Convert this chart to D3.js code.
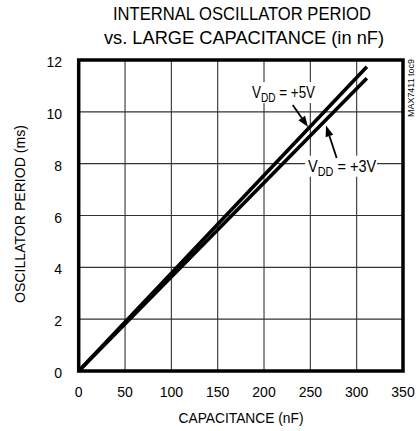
<!DOCTYPE html>
<html>
<head>
<meta charset="utf-8">
<script src="https://cdn.jsdelivr.net/npm/d3@7"></script>
<style>
  body { margin: 0; background: #fff; }
  text { font-family: "Liberation Sans Narrow", "Liberation Sans", Arial, sans-serif; fill: #000; }
</style>
</head>
<body>
<div id="chart"></div>
<script>
// capacitance in nF, period in ms
const capacitance = [0, 311];
const period5V = [0, 11.74];
const period3V = [0, 11.3];
const xTicks = [0, 50, 100, 150, 200, 250, 300, 350];
const yTicks = [0, 2, 4, 6, 8, 10, 12];

var drawChart = function () {
  const width = 418;
  const height = 431;
  const margin = { top: 60, right: 15, bottom: 60, left: 78.7 };

  const svg = d3.select('#chart')
    .append('svg')
    .attr('width', width)
    .attr('height', height);

  const x = d3.scaleLinear().domain([0, 350]).range([margin.left, 403]);
  const y = d3.scaleLinear().domain([0, 12]).range([371, margin.top]);

  // title
  svg.append('text')
    .attr('x', 242).attr('y', 19.5)
    .attr('text-anchor', 'middle')
    .attr('font-size', 17.5)
    .attr('textLength', 258).attr('lengthAdjust', 'spacingAndGlyphs')
    .text('INTERNAL OSCILLATOR PERIOD');
  svg.append('text')
    .attr('x', 244).attr('y', 44)
    .attr('text-anchor', 'middle')
    .attr('font-size', 17.5)
    .attr('textLength', 280).attr('lengthAdjust', 'spacingAndGlyphs')
    .text('vs. LARGE CAPACITANCE (in nF)');

  // grid
  const grid = svg.append('g')
    .attr('stroke', '#333')
    .attr('stroke-width', 1.1);
  grid.selectAll('line.v')
    .data(xTicks.slice(1, -1))
    .enter().append('line')
    .attr('x1', d => x(d)).attr('x2', d => x(d))
    .attr('y1', y(12)).attr('y2', y(0));
  grid.selectAll('line.h')
    .data(yTicks.slice(1, -1))
    .enter().append('line')
    .attr('x1', x(0)).attr('x2', x(350))
    .attr('y1', d => y(d)).attr('y2', d => y(d));

  // series
  const line = d3.line()
    .x(d => x(d[0]))
    .y(d => y(d[1]));
  const series = [
    d3.zip(capacitance, period5V),
    d3.zip(capacitance, period3V)
  ];
  svg.append('g')
    .selectAll('path')
    .data(series)
    .enter().append('path')
    .attr('d', line)
    .attr('fill', 'none')
    .attr('stroke', '#000')
    .attr('stroke-width', 3.6);

  // frame
  svg.append('rect')
    .attr('x', x(0)).attr('y', y(12))
    .attr('width', x(350) - x(0))
    .attr('height', y(0) - y(12))
    .attr('fill', 'none')
    .attr('stroke', '#000')
    .attr('stroke-width', 3.5);

  // tick labels
  svg.append('g')
    .selectAll('text')
    .data(xTicks)
    .enter().append('text')
    .attr('x', d => x(d))
    .attr('y', 397)
    .attr('text-anchor', 'middle')
    .attr('font-size', 14)
    .text(d => d);

  svg.append('g')
    .selectAll('text')
    .data(yTicks)
    .enter().append('text')
    .attr('x', 62)
    .attr('y', d => y(d) + 7)
    .attr('text-anchor', 'end')
    .attr('font-size', 14)
    .text(d => d);

  // axis titles
  svg.append('text')
    .attr('x', 241).attr('y', 423)
    .attr('text-anchor', 'middle')
    .attr('font-size', 14.5)
    .attr('textLength', 125).attr('lengthAdjust', 'spacingAndGlyphs')
    .text('CAPACITANCE (nF)');

  svg.append('text')
    .attr('transform', 'translate(25,214) rotate(-90)')
    .attr('text-anchor', 'middle')
    .attr('font-size', 14.5)
    .attr('textLength', 178).attr('lengthAdjust', 'spacingAndGlyphs')
    .text('OSCILLATOR PERIOD (ms)');

  // part number tag
  svg.append('text')
    .attr('transform', 'translate(414,88) rotate(-90)')
    .attr('text-anchor', 'middle')
    .attr('font-size', 9)
    .attr('textLength', 58).attr('lengthAdjust', 'spacingAndGlyphs')
    .text('MAX7411 toc9');

  // annotations
  const labels = [
    { name: '+5V', c: 187, t: 10.53, len: 63, tail: [231, 10.26], head: [247.5, 9.41] },
    { name: '+3V', c: 247.5, t: 7.69, len: 68, tail: [278.4, 8.22], head: [266.9, 9.47] }
  ];

  labels.forEach(l => {
    const g = svg.append('g');
    g.append('rect')
      .attr('x', x(l.c) - 3).attr('y', y(l.t) - 16)
      .attr('width', l.len + 4).attr('height', 21)
      .attr('fill', '#fff');
    // squeeze horizontally to match the condensed face
    const t = g.append('text')
      .attr('transform', `translate(${x(l.c)},${y(l.t)}) scale(${l.len / 75},1)`)
      .attr('font-size', 16);
    t.append('tspan').text('V');
    t.append('tspan').attr('font-size', 12).attr('dy', 4).text('DD');
    t.append('tspan').attr('dy', -4).text(' = ' + l.name);

    const x1 = x(l.tail[0]), y1 = y(l.tail[1]);
    const x2 = x(l.head[0]), y2 = y(l.head[1]);
    const ang = Math.atan2(y2 - y1, x2 - x1);
    const len = 11, w = 4;
    const bx = x2 - len * Math.cos(ang), by = y2 - len * Math.sin(ang);
    g.append('line')
      .attr('x1', x1).attr('y1', y1)
      .attr('x2', bx).attr('y2', by)
      .attr('stroke', '#000')
      .attr('stroke-width', 1.8);
    g.append('path')
      .attr('d', `M${x2},${y2} L${bx + w * Math.sin(ang)},${by - w * Math.cos(ang)} L${bx - w * Math.sin(ang)},${by + w * Math.cos(ang)} Z`)
      .attr('fill', '#000');
  });
};

drawChart();
</script>
</body>
</html>
